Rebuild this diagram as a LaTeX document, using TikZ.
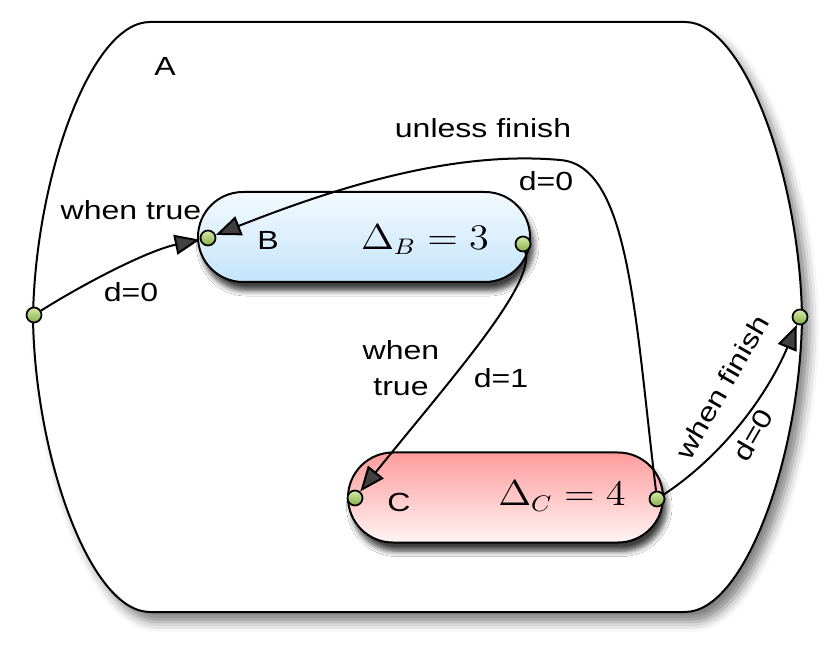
\documentclass[tikz,border=0pt]{standalone}
\usepackage[no-math]{fontspec}
\setmainfont{Liberation Sans}[FakeStretch=1.22]
\usepackage{tikz}
\usetikzlibrary{arrows.meta,shadows.blur}
\definecolor{bluetop}{HTML}{F4FAFF}
\definecolor{bluebot}{HTML}{C4E4FA}
\definecolor{redtop}{HTML}{FF9B9B}
\definecolor{redbot}{HTML}{FFF5F5}
\definecolor{portlt}{HTML}{D6EBA8}
\definecolor{portdk}{HTML}{84B04A}
\newcommand{\wmath}[1]{\scalebox{1.12}[1]{$#1$}}

\begin{document}
\begin{tikzpicture}[
x=0.4pt,y=-0.4pt,
every node/.style={font=\fontsize{10.5}{12}\selectfont},
arr/.style={-{Triangle[length=10pt,width=8pt]},line width=0.8pt},
state/.style={draw,line width=0.8pt,rounded corners=18pt,minimum height=36pt,
  blur shadow={shadow xshift=1.5pt,shadow yshift=-3.5pt,shadow opacity=75,shadow blur steps=6}},
port/.style={circle,draw,line width=0.7pt,inner sep=0pt,minimum size=6pt,
  top color=portlt,bottom color=portdk},
delta/.style={font=\fontsize{13.5}{16}\selectfont}
]
\useasboundingbox (0,0) rectangle (830,650);
% outer state A
\draw[line width=0.8pt,fill=white,
  blur shadow={shadow xshift=3pt,shadow yshift=-4pt,shadow opacity=50,shadow blur radius=4pt}]
  (150,22) -- (685,22) .. controls (745,22) and (800,180) .. (802,318)
  .. controls (800,456) and (745,612) .. (685,612) -- (150,612)
  .. controls (90,612) and (35,456) .. (33,318)
  .. controls (35,180) and (90,22) .. (150,22) -- cycle;
\node (alab) at (165,66) {A};
% inner states
\node[state,top color=bluetop,bottom color=bluebot,minimum width=132.8pt] (B) at (364,237) {};
\node[state,top color=redtop,bottom color=redbot,minimum width=126pt] (C) at (505.5,497.5) {};
\node (blab) at (268,240) {B};
\node[delta] (bdelta) at (425,240) {\wmath{\Delta_B = 3}};
\node (clab) at (399,502) {C};
\node[delta] (cdelta) at (562,496) {\wmath{\Delta_C = 4}};
% ports
\node[port] (ain) at (34,315) {};
\node[port] (aout) at (800,317) {};
\node[port] (bin) at (208,238) {};
\node[port] (bout) at (523,244) {};
\node[port] (cin) at (355,498) {};
\node[port] (cout) at (657,499) {};
% transitions
\draw[arr] (ain) .. controls (90,280) and (150,250) .. (bin);
\node (t1) at (131,210) {when true};
\node (d1) at (131,292) {d=0};
\draw[arr] (cout) .. controls (635,320) and (630,165) .. (560,160)
  .. controls (450,150) and (330,190) .. (bin);
\node (t2) at (483,128) {unless finish};
\node (d2) at (546,181) {d=0};
\draw[arr] (bout) .. controls (535,285) and (450,380) .. (cin);
\node[align=center,font=\fontsize{10.5}{14.4}\selectfont] (t3) at (401,368) {when\\true};
\node (d3) at (501,378) {d=1};
\draw[arr] (cout) .. controls (722,456) and (767,396) .. (aout);
\node[rotate=60] (t4) at (722,387) {when finish};
\node[rotate=60] (d4) at (753,435) {d=0};
\end{tikzpicture}
\end{document}
